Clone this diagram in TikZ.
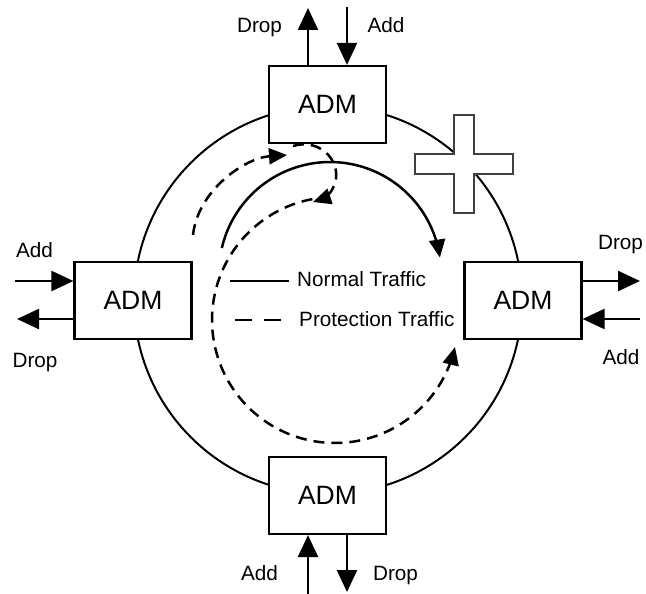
\documentclass[tikz,border=0pt]{standalone}
\usepackage{fontspec}
\setmainfont{Liberation Sans}
\usetikzlibrary{arrows.meta}
\begin{document}
\begin{tikzpicture}[x=1pt,y=-1pt,
  adm/.style={draw,line width=2.2pt,fill=white,minimum width=117pt,minimum height=77pt,
    inner sep=0pt,font=\fontsize{26.5}{30}\selectfont},
  lbl/.style={anchor=base,inner sep=0pt,font=\fontsize{20.7}{24}\selectfont},
  ext/.style={line width=2.4pt,-{Triangle[length=22pt,width=20pt]}},
  ringline/.style={line width=2pt},
  flow/.style={line width=2.5pt,-{Triangle[length=18pt,width=16pt]}},
  prot/.style={flow,dash pattern=on 11pt off 7pt},
]
\useasboundingbox (0,0) rectangle (646,594);

% ring
\draw[ringline] (328,300) circle[radius=194pt];

% failure mark on the ring
\draw[line width=1.3pt,draw=black!75,fill=white]
  (454,115) -- (474,115) -- (474,154) -- (513,154) -- (513,174) -- (474,174)
  -- (474,213) -- (454,213) -- (454,174) -- (415,174) -- (415,154) -- (454,154) -- cycle;

% add/drop multiplexers
\node[adm] (top)    at (327.5,104.5) {ADM};
\node[adm] (left)   at (133,300.5)   {ADM};
\node[adm] (right)  at (523,300.5)   {ADM};
\node[adm] (bottom) at (327.5,495.5) {ADM};

% tributary ends
\coordinate (tdrop) at (308,8);
\coordinate (tadd)  at (347,7);
\coordinate (ladd)  at (15,281);
\coordinate (ldrop) at (17,319);
\coordinate (rdrop) at (640,281);
\coordinate (radd)  at (640,319);
\coordinate (badd)  at (308,594);
\coordinate (bdrop) at (347,592);

\draw[ext] (top.north -| tdrop) -- (tdrop);
\draw[ext] (tadd) -- (top.north -| tadd);
\draw[ext] (ladd) -- (left.west |- ladd);
\draw[ext] (left.west |- ldrop) -- (ldrop);
\draw[ext] (right.east |- rdrop) -- (rdrop);
\draw[ext] (radd) -- (right.east |- radd);
\draw[ext] (badd) -- (bottom.south -| badd);
\draw[ext] (bottom.south -| bdrop) -- (bdrop);

% labels
\node[lbl] (ltd) at (259.5,33)  {Drop};
\node[lbl] (lta) at (386,33)    {Add};
\node[lbl] (lla) at (34.5,257.5){Add};
\node[lbl] (lld) at (35,367.5)  {Drop};
\node[lbl] (lrd) at (620.5,249) {Drop};
\node[lbl] (lra) at (621,364.5) {Add};
\node[lbl] (lba) at (259.5,580) {Add};
\node[lbl] (lbd) at (395.5,580) {Drop};

% normal traffic
\draw[flow] plot[domain=193:352,samples=80] ({330+111*cos(\x)},{273+111*sin(\x)});

% protection traffic: out, loop back, around the other way
\coordinate (p0) at (193,235);
\coordinate (p1) at (287,155);
\coordinate (q0) at (293,146);
\coordinate (q1) at (313,202);
\draw[prot] (p0) .. controls (198,190) and (245,158) .. (p1);
\draw[prot] (q0) .. controls (322,137) and (345,165) .. (333,188)
  .. controls (330,195) and (322,199) .. (q1);
\draw[prot] plot[domain=259.4:12.7,samples=120] ({335+123*cos(\x)},{320+123*sin(\x)});

% legend
\coordinate (n0) at (230,281);
\coordinate (n1) at (289,281);
\coordinate (d0) at (235,320);
\coordinate (d1) at (282,320);
\draw[line width=2pt] (n0) -- (n1);
\draw[line width=2pt,dash pattern=on 17pt off 12pt] (d0) -- (d1);
\node[lbl,anchor=base west] (ln) at (297,286.5) {Normal Traffic};
\node[lbl,anchor=base west] (lp) at (299,326.5) {Protection Traffic};
\end{tikzpicture}
\end{document}
